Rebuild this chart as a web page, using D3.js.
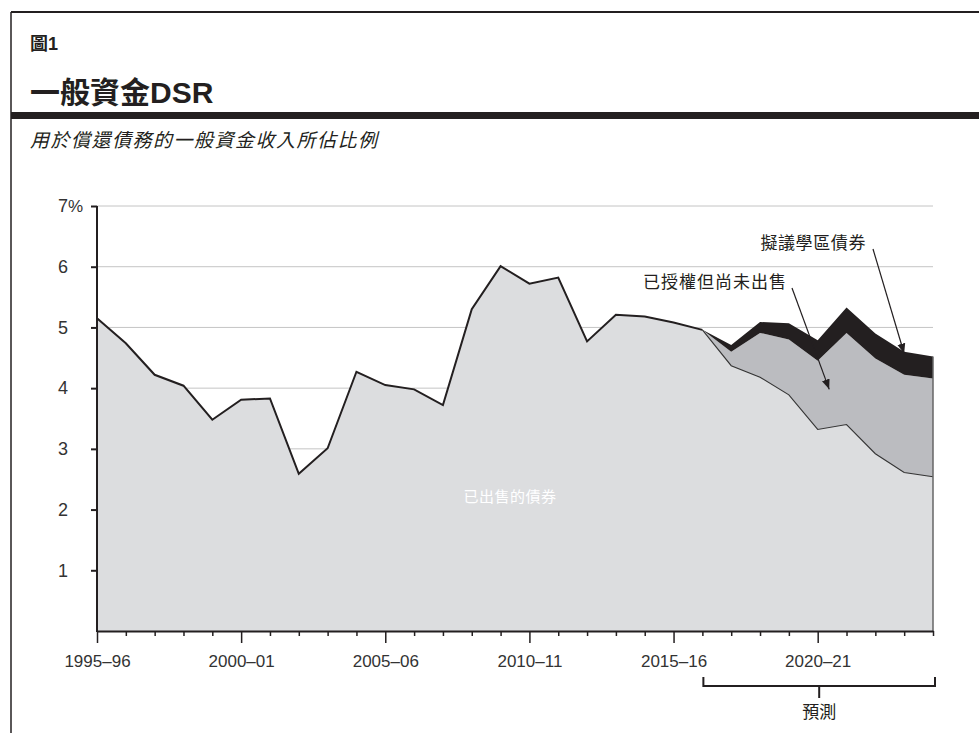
<!DOCTYPE html>
<html>
<head>
<meta charset="utf-8">
<script src="https://cdn.jsdelivr.net/npm/d3@7"></script>
<style>
body { margin: 0; background: #fff; }
text { font-family: "Liberation Sans", "Noto Sans CJK TC", sans-serif; fill: #231f20; }
</style>
</head>
<body>
<svg id="chart"></svg>
<script>
var width = 979;
var height = 733;

// fiscal years on the x axis
var years = ["1995–96","1996–97","1997–98","1998–99","1999–00","2000–01","2001–02","2002–03",
	"2003–04","2004–05","2005–06","2006–07","2007–08","2008–09","2009–10","2010–11","2011–12",
	"2012–13","2013–14","2014–15","2015–16","2016–17","2017–18","2018–19","2019–20","2020–21",
	"2021–22","2022–23","2023–24","2024–25"];

// debt service ratio, % of general fund revenue
var sold = [5.15,4.74,4.22,4.04,3.48,3.81,3.83,2.59,3.01,4.27,4.05,3.98,3.72,5.30,6.01,5.72,
	5.82,4.77,5.21,5.18,5.08,4.96,4.37,4.18,3.89,3.32,3.40,2.92,2.61,2.54];
var authorized = [null,null,null,null,null,null,null,null,null,null,null,null,null,null,null,null,
	null,null,null,null,null,0,0.23,0.73,0.91,1.13,1.51,1.57,1.61,1.62];
var proposed = [null,null,null,null,null,null,null,null,null,null,null,null,null,null,null,null,
	null,null,null,null,null,0,0.11,0.18,0.27,0.34,0.42,0.41,0.38,0.36];

var yTicks = [1,2,3,4,5,6,7];
var forecastStart = 21;

var svg = d3.select("#chart")
.attr("width", width)
.attr("height", height);

// frame
svg.append("line").attr("x1", 11).attr("y1", 12).attr("x2", 11).attr("y2", height)
.style("stroke", "#231f20").style("stroke-width", 1.5);
svg.append("line").attr("x1", 11).attr("y1", 12).attr("x2", width).attr("y2", 12)
.style("stroke", "#231f20").style("stroke-width", 2);
svg.append("rect").attr("x", 11).attr("y", 112).attr("width", width - 11).attr("height", 7)
.style("fill", "#231f20");

svg.append("text").attr("x", 30).attr("y", 50)
.style("font-size", "18px").style("font-weight", "bold").text("圖1");
svg.append("text").attr("x", 30).attr("y", 103)
.style("font-size", "30px").style("font-weight", "bold").text("一般資金DSR");
svg.append("text").attr("x", 30).attr("y", 147)
.style("font-size", "19px").style("font-style", "italic").style("letter-spacing", "1.5px")
.text("用於償還債務的一般資金收入所佔比例");

var x = d3.scaleLinear().domain([0, years.length - 1]).range([97, 933]);
var y = d3.scaleLinear().domain([0, 7]).range([631, 206]);

// gridlines
svg.append("g").selectAll("line")
.data(yTicks)
.enter().append("line")
.attr("x1", x(0)).attr("x2", x(years.length - 1))
.attr("y1", function (d) { return y(d); })
.attr("y2", function (d) { return y(d); })
.style("stroke", "#c4c4c4").style("stroke-width", 1);

var rows = years.map(function (yr, i) {
	return { i: i, sold: sold[i], authorized: authorized[i] || 0, proposed: proposed[i] || 0 };
});
var stack = d3.stack().keys(["sold", "authorized", "proposed"]);
var layers = stack(rows);
var colors = { sold: "#dcdddf", authorized: "#bbbcc0", proposed: "#231f20" };

var area = d3.area()
.x(function (d) { return x(d.data.i); })
.y0(function (d) { return y(d[0]); })
.y1(function (d) { return y(d[1]); });

layers.forEach(function (layer) {
	var pts = layer.key == "sold" ? layer : layer.filter(function (d) { return d.data.i >= forecastStart; });
	svg.append("path")
	.datum(pts)
	.attr("d", area)
	.style("fill", colors[layer.key]);
});

var line = d3.line()
.x(function (d) { return x(d.i); })
.y(function (d) { return y(d.sold); });

// history line (thick) and sold forecast line (thin)
svg.append("path")
.datum(rows.filter(function (d) { return d.i <= forecastStart; }))
.attr("d", line)
.style("fill", "none").style("stroke", "#231f20").style("stroke-width", 2)
.style("stroke-linejoin", "miter");
svg.append("path")
.datum(rows.filter(function (d) { return d.i >= forecastStart; }))
.attr("d", line)
.style("fill", "none").style("stroke", "#333").style("stroke-width", 1.1);

// right edge of the area
var last = layers[2][years.length - 1];
svg.append("line")
.attr("x1", x(years.length - 1)).attr("x2", x(years.length - 1))
.attr("y1", y(last[1])).attr("y2", y(0))
.style("stroke", "#666").style("stroke-width", 1.5);

// y axis
var yAxis = svg.append("g")
.attr("transform", "translate(" + x(0) + ",0)")
.call(d3.axisLeft(y).tickValues(yTicks).tickSize(6).tickPadding(23).tickSizeOuter(0)
	.tickFormat(d3.format("d")));
yAxis.select(".domain").remove();
yAxis.selectAll(".tick line").style("stroke", "#231f20").style("stroke-width", 2);
yAxis.selectAll(".tick text")
.style("font-size", "18px").style("fill", "#333").style("font-family", "'Liberation Sans', sans-serif");
yAxis.selectAll(".tick").filter(function (d) { return d == 7; })
.append("text")
.attr("x", -29).attr("dy", "0.32em")
.attr("text-anchor", "start")
.style("font-size", "17px").style("fill", "#333").style("font-family", "'Liberation Sans', sans-serif")
.text("%");
svg.append("line")
.attr("x1", x(0)).attr("x2", x(0)).attr("y1", y(7)).attr("y2", y(0) + 1)
.style("stroke", "#231f20").style("stroke-width", 2);

// x axis
var xAxis = svg.append("g")
.attr("transform", "translate(0," + y(0) + ")")
.call(d3.axisBottom(x)
	.tickValues(d3.range(years.length))
	.tickSize(5)
	.tickSizeOuter(0)
	.tickFormat(function (i) { return i % 5 == 0 ? years[i] : ""; }));
xAxis.select(".domain").style("stroke", "#231f20").style("stroke-width", 2);
xAxis.selectAll(".tick line")
.attr("y2", function (i) { return i % 5 == 0 ? 12 : 5; })
.style("stroke", "#231f20").style("stroke-width", 1.5);
xAxis.selectAll(".tick text")
.attr("y", 24)
.style("font-size", "17px").style("fill", "#333").style("font-family", "'Liberation Sans', sans-serif");

// forecast bracket
var bx0 = x(forecastStart) + 1, bx1 = x(years.length - 1) + 2, by = 686;
svg.append("path")
.attr("d", "M" + bx0 + "," + (by - 9) + "V" + by + "H" + bx1 + "V" + (by - 9))
.style("fill", "none").style("stroke", "#231f20").style("stroke-width", 2);
var bmid = x(25) + 1.5;
svg.append("line").attr("x1", bmid).attr("x2", bmid).attr("y1", by).attr("y2", by + 12)
.style("stroke", "#231f20").style("stroke-width", 2);
svg.append("text").attr("x", bmid).attr("y", by + 32)
.attr("text-anchor", "middle").style("font-size", "17px").text("預測");

// label inside sold area
svg.append("text").attr("x", 510).attr("y", 502)
.attr("text-anchor", "middle")
.style("font-size", "15px").style("fill", "#fff").style("letter-spacing", "0.5px")
.text("已出售的債券");

// annotation arrows
svg.append("defs").append("marker")
.attr("id", "arrow")
.attr("viewBox", "0 0 10 10")
.attr("refX", 10).attr("refY", 5)
.attr("markerWidth", 10).attr("markerHeight", 10)
.attr("markerUnits", "userSpaceOnUse")
.attr("orient", "auto")
.append("path")
.attr("d", "M0,1 L10,5 L0,9 Z")
.style("fill", "#231f20");

svg.append("text").attr("x", 866).attr("y", 249)
.attr("text-anchor", "end").style("font-size", "17px").style("letter-spacing", "0.6px")
.text("擬議學區債券");
svg.append("line")
.attr("x1", 873).attr("y1", 249)
.attr("x2", x(28)).attr("y2", y(layers[2][28][1] - 0.03))
.style("stroke", "#231f20").style("stroke-width", 1.2)
.attr("marker-end", "url(#arrow)");

svg.append("text").attr("x", 787).attr("y", 288)
.attr("text-anchor", "end").style("font-size", "17px").style("letter-spacing", "1px")
.text("已授權但尚未出售");
svg.append("line")
.attr("x1", 792).attr("y1", 288)
.attr("x2", x(25.4)).attr("y2", y(3.98))
.style("stroke", "#231f20").style("stroke-width", 1.2)
.attr("marker-end", "url(#arrow)");
</script>
</body>
</html>
